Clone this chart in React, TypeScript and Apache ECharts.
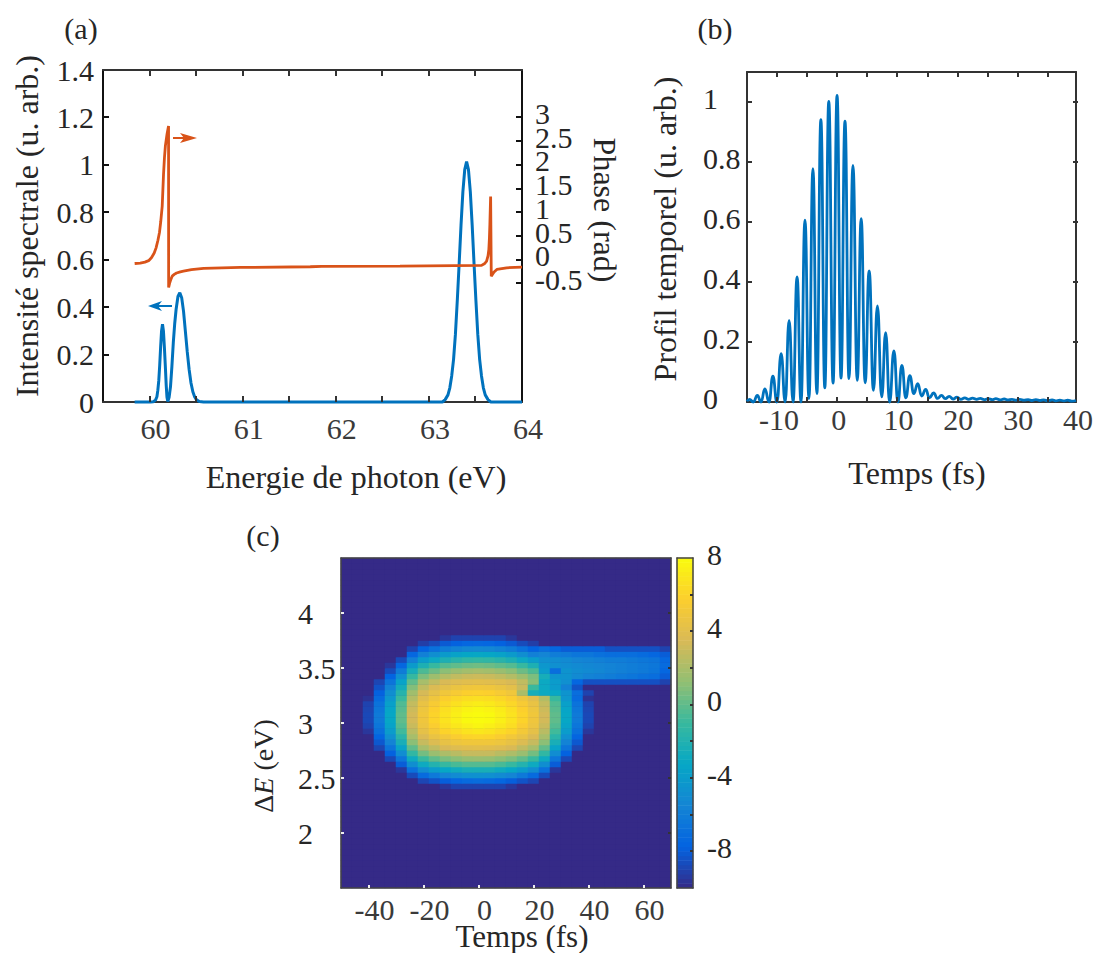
import React, { useEffect, useRef } from "react";
import * as echarts from "echarts";

const FONT = "Liberation Serif";
const INK = "#262626";
const TICKINK = "#3a3a3a";
const BLUE = "#0072bd";
const ORANGE = "#d95319";
const B = -10;

const spectrumEnergy = [59.84, 60.01, 60.04, 60.064, 60.079, 60.089, 60.099, 60.109, 60.119, 60.129, 60.139, 60.149, 60.159, 60.169, 60.179, 60.187, 60.196, 60.21, 60.225, 60.24, 60.255, 60.27, 60.285, 60.305, 60.325, 60.345, 60.365, 60.385, 60.405, 60.425, 60.445, 60.465, 60.485, 60.505, 60.535, 60.58, 61, 62, 63, 63.145, 63.175, 63.205, 63.225, 63.245, 63.265, 63.285, 63.305, 63.325, 63.345, 63.365, 63.385, 63.405, 63.425, 63.445, 63.465, 63.485, 63.505, 63.525, 63.545, 63.565, 63.585, 63.605, 63.635, 63.665, 64];
const spectrumValue = [0, 0, 0.001, 0.008, 0.022, 0.05, 0.09, 0.155, 0.233, 0.3, 0.328, 0.3, 0.233, 0.155, 0.07, 0.02, 0.002, 0.02, 0.065, 0.15, 0.25, 0.33, 0.39, 0.445, 0.461, 0.44, 0.382, 0.297, 0.211, 0.137, 0.08, 0.043, 0.021, 0.009, 0.002, 0, 0, 0, 0, 0, 0.01, 0.03, 0.06, 0.11, 0.18, 0.286, 0.428, 0.583, 0.745, 0.886, 0.98, 1.014, 0.98, 0.886, 0.745, 0.583, 0.428, 0.286, 0.18, 0.11, 0.06, 0.03, 0.01, 0, 0];

const phaseEnergy = [59.84, 59.9, 59.95, 59.99, 60.02, 60.05, 60.07, 60.09, 60.107, 60.12, 60.136, 60.15, 60.16, 60.17, 60.188, 60.204, 60.205, 60.215, 60.23, 60.243, 60.265, 60.29, 60.33, 60.364, 60.45, 60.58, 60.975, 61.726, 61.85, 62.69, 63.566, 63.6, 63.62, 63.635, 63.644, 63.65, 63.655, 63.663, 63.67, 63.7, 63.73, 63.835, 64];
const phaseValue = [-0.08, -0.07, -0.05, -0.02, 0.04, 0.14, 0.25, 0.41, 0.58, 0.8, 1.13, 1.8, 2.15, 2.4, 2.65, 2.82, -0.585, -0.5, -0.41, -0.347, -0.31, -0.28, -0.255, -0.24, -0.21, -0.184, -0.163, -0.148, -0.142, -0.137, -0.12, -0.08, -0.03, 0.08, 0.218, 0.45, 0.746, 1.33, -0.347, -0.26, -0.205, -0.17, -0.156];

const profileTime = [-15, -14.59, -13.93, -13.27, -12.66, -12, -11.33, -10.67, -10, -9.29, -8.62, -7.96, -7.3, -6.63, -5.97, -5.31, -4.64, -3.98, -3.32, -2.65, -1.99, -1.33, -0.61, 0.055, 0.72, 1.38, 2.05, 2.71, 3.43, 4.09, 4.75, 5.42, 6.14, 6.8, 7.52, 8.18, 8.84, 9.56, 10.23, 10.89, 11.55, 12.22, 12.88, 13.54, 14.2, 14.87, 15.5, 16.2, 16.85, 17.5, 18.15, 18.8, 19.45, 20.1, 20.75, 21.4, 22.05, 22.7, 23.4, 24, 24.65, 25.3, 26, 26.6, 27.3, 28, 28.6, 29.3, 30, 30.6, 31.3, 32, 32.6, 33.3, 34, 34.6, 35.3, 36, 36.6, 37.3, 38, 38.6, 39.3, 40];
const profileValue = [0.002, 0.009, 0, 0.022, 0, 0.044, 0, 0.086, 0, 0.161, 0, 0.272, 0, 0.417, 0, 0.606, 0.011, 0.778, 0.028, 0.941, 0.047, 1.002, 0.063, 1.022, 0.08, 0.936, 0.078, 0.789, 0.072, 0.611, 0.064, 0.437, 0.039, 0.32, 0.017, 0.231, 0, 0.17, 0, 0.122, 0.014, 0.088, 0.028, 0.061, 0.02, 0.042, 0.014, 0.03, 0.012, 0.022, 0.011, 0.019, 0.01, 0.016, 0.009, 0.014, 0.009, 0.013, 0.009, 0.012, 0.008, 0.011, 0.008, 0.011, 0.007, 0.01, 0.007, 0.009, 0.006, 0.009, 0.006, 0.008, 0.005, 0.008, 0.005, 0.007, 0.004, 0.007, 0.004, 0.006, 0.004, 0.006, 0.003, 0.005];

const heatTimes = [-48, -44, -40, -36, -32, -28, -24, -20, -16, -12, -8, -4, 0, 4, 8, 12, 16, 20, 24, 28, 32, 36, 40, 44, 48, 52, 56, 60, 64, 68];
const heatEnergies = [1.525, 1.575, 1.625, 1.675, 1.725, 1.775, 1.825, 1.875, 1.925, 1.975, 2.025, 2.075, 2.125, 2.175, 2.225, 2.275, 2.325, 2.375, 2.425, 2.475, 2.525, 2.575, 2.625, 2.675, 2.725, 2.775, 2.825, 2.875, 2.925, 2.975, 3.025, 3.075, 3.125, 3.175, 3.225, 3.275, 3.325, 3.375, 3.425, 3.475, 3.525, 3.575, 3.625, 3.675, 3.725, 3.775, 3.825, 3.875, 3.925, 3.975, 4.025, 4.075, 4.125, 4.175, 4.225, 4.275, 4.325, 4.375, 4.425, 4.475];
const heatRows = [
  [B, B, B, B, B, B, B, B, B, -9.5, -9, -9, -9, -9, -9, -9.5, B, B, B, B, B, B, B, B, B, B, B, B, B, B],
  [B, B, B, B, B, B, B, -9.2, -8.7, -8.1, -7.8, -7.5, -7.4, -7.5, -7.8, -8.1, -8.7, -9.2, B, B, B, B, B, B, B, B, B, B, B, B],
  [B, B, B, B, B, B, -9, -7.7, -6.8, -6.1, -5.7, -5.4, -5.3, -5.4, -5.7, -6.1, -6.8, -7.7, -7, -7.5, -8, -8, -8, -8, -8.5, -8.5, -8.5, -8.5, -8.5, -9],
  [B, B, B, B, B, -10, -7.5, -5.8, -4.9, -4.1, -3.6, -3.3, -3.2, -3.3, -3.6, -4.1, -4.9, -5.8, -5.5, -6, -6.2, -6.5, -6.5, -6.8, -7, -7, -7, -7.2, -7.5, -8],
  [B, B, B, B, B, -8.7, -5.8, -3.9, -3, -2.2, -1.7, -1.4, -1.3, -1.4, -1.7, -2.2, -3, -3.9, -4.8, -5, -5.2, -5.5, -5.6, -5.8, -6, -6, -6.2, -6.4, -6.6, -7.4],
  [B, B, B, B, -9.5, -7.5, -4.1, -2.2, -1.1, -0.3, 0, 0.3, 0.4, 0.3, 0, -0.3, -1.1, -2.2, -4.3, -4.8, -5, -5.2, -5.4, -5.5, -5.6, -5.8, -6, -6.2, -6.4, -7.2],
  [B, B, B, B, -8.7, -6.1, -2.5, -0.5, 0.3, 1.1, 1.5, 1.8, 1.9, 1.8, 1.5, 1.1, 0.3, -0.5, -4, -7, -4.6, -5, -5.2, -5.4, -5.6, -5.8, -6, -6.2, -6.5, -7.5],
  [B, B, B, B, -7.7, -4.8, -1.1, 0.7, 1.6, 2.3, 2.7, 3, 3.1, 3, 2.7, 2.3, 1.6, 0.7, -2.5, -4.5, -4.6, -5.2, -5.6, -5.8, -6, -6.3, -6.5, -6.8, -7, -8],
  [B, B, B, -8.9, -6.6, -3.5, 0, 1.9, 2.7, 3.5, 3.8, 4, 4.1, 4, 3.8, 3.5, 2.7, 1, -3, -4, -4.8, -7.5, -8.5, -8.5, -8.5, -8.5, -8.5, -8.5, -8.5, -9],
  [B, B, B, -8.4, -5.7, -2.6, 0.9, 2.7, 3.6, 4.2, 4.6, 4.9, 5, 4.9, 4.6, 4.2, 3, -1, -3, -4, -5.7, -8.4, B, B, B, B, B, B, B, B],
  [B, B, B, -7.8, -4.9, -1.8, 1.7, 3.4, 4.3, 5, 5.4, 5.8, 5.9, 5.8, 5.4, 5, 2, -2.5, -3, -3.2, -4.5, -7, -9, B, B, B, B, B, B, B],
  [B, B, -9.7, -7.2, -4.3, -1, 2.3, 4, 4.9, 5.7, 6.2, 6.5, 6.6, 6.5, 6.2, 5.7, 4.9, 4, 2.3, -1, -4.3, -7.2, -9.7, B, B, B, B, B, B, B],
  [B, B, -9, -6.7, -3.7, -0.4, 2.8, 4.5, 5.4, 6.2, 6.7, 7.1, 7.3, 7.1, 6.7, 6.2, 5.4, 4.5, 2.8, -0.4, -3.7, -6.7, -9, B, B, B, B, B, B, B],
  [B, B, -8.9, -6.4, -3.4, -0.2, 3.1, 4.8, 5.8, 6.6, 7.2, 7.6, 7.8, 7.6, 7.2, 6.6, 5.8, 4.8, 3.1, -0.2, -3.4, -6.4, -8.9, B, B, B, B, B, B, B],
  [B, B, -8.8, -6.2, -3.2, 0, 3.3, 5, 6, 6.8, 7.4, 7.9, 8, 7.9, 7.4, 6.8, 6, 5, 3.3, 0, -3.2, -6.2, -8.8, B, B, B, B, B, B, B],
  [B, B, -8.8, -6.2, -3.2, 0, 3.3, 4.9, 6, 6.8, 7.4, 7.9, 8, 7.9, 7.4, 6.8, 6, 4.9, 3.3, 0, -3.2, -6.2, -8.8, B, B, B, B, B, B, B],
  [B, B, -9, -6.5, -3.5, -0.3, 3, 4.7, 5.6, 6.5, 7, 7.4, 7.7, 7.4, 7, 6.5, 5.6, 4.7, 3, -0.3, -3.5, -6.5, -9, B, B, B, B, B, B, B],
  [B, B, -9.5, -6.9, -4, -0.8, 2.5, 4.3, 5.2, 6, 6.4, 6.8, 7, 6.8, 6.4, 6, 5.2, 4.3, 2.5, -0.8, -4, -6.9, -9.5, B, B, B, B, B, B, B],
  [B, B, B, -7.6, -4.8, -1.6, 1.9, 3.6, 4.5, 5.1, 5.6, 6, 6.1, 6, 5.6, 5.1, 4.5, 3.6, 1.9, -1.6, -4.8, -7.6, B, B, B, B, B, B, B, B],
  [B, B, B, -8.2, -5.6, -2.4, 1.1, 2.9, 3.7, 4.4, 4.8, 5, 5, 5, 4.8, 4.4, 3.7, 2.9, 1.1, -2.4, -5.6, -8.2, B, B, B, B, B, B, B, B],
  [B, B, B, -8.9, -6.6, -3.5, 0, 1.9, 2.7, 3.5, 3.8, 4, 4.1, 4, 3.8, 3.5, 2.7, 1.9, 0, -3.5, -6.6, -8.9, B, B, B, B, B, B, B, B],
  [B, B, B, B, -7.8, -5, -1.3, 0.5, 1.5, 2.1, 2.5, 2.9, 2.9, 2.9, 2.5, 2.1, 1.5, 0.5, -1.3, -5, -7.8, B, B, B, B, B, B, B, B, B],
  [B, B, B, B, -8.8, -6.5, -2.9, -1, 0, 0.7, 1.1, 1.4, 1.5, 1.4, 1.1, 0.7, 0, -1, -2.9, -6.5, -8.8, B, B, B, B, B, B, B, B, B],
  [B, B, B, B, B, -8, -4.9, -2.9, -1.9, -1.1, -0.6, -0.3, -0.3, -0.3, -0.6, -1.1, -1.9, -2.9, -4.9, -8, B, B, B, B, B, B, B, B, B, B],
  [B, B, B, B, B, -9.5, -6.8, -5, -4, -3.2, -2.8, -2.4, -2.4, -2.4, -2.8, -3.2, -4, -5, -6.8, -9.5, B, B, B, B, B, B, B, B, B, B],
  [B, B, B, B, B, B, -8.7, -7.2, -6.3, -5.5, -5.1, -4.8, -4.7, -4.8, -5.1, -5.5, -6.3, -7.2, -8.7, B, B, B, B, B, B, B, B, B, B, B],
  [B, B, B, B, B, B, B, -8.9, -8.4, -7.9, -7.5, -7.2, -7.1, -7.2, -7.5, -7.9, -8.4, -8.9, B, B, B, B, B, B, B, B, B, B, B, B],
  [B, B, B, B, B, B, B, B, B, -9.5, -9, -9, -9, -9, -9, -9.5, B, B, B, B, B, B, B, B, B, B, B, B, B, B],
];
const colorLevels = Array.from({ length: 72 }, (_, i) => -10 + (i + 0.5) * 0.25);
const parula = ["#352a87", "#0363e1", "#1485d4", "#06a7c6", "#38b99e", "#92bf73", "#d9ba56", "#fcce2e", "#f9fb0e"];

const ticksAX = [60, 61, 62, 63, 64];
const ticksAXMarks = [60, 60.5, 61, 61.5, 62, 62.5, 63, 63.5];
const ticksAY = [0, 0.2, 0.4, 0.6, 0.8, 1, 1.2, 1.4];
const ticksAYMarks = [0.2, 0.4, 0.6, 0.8, 1, 1.2];
const ticksPhase = [-0.5, 0, 0.5, 1, 1.5, 2, 2.5, 3];
const phaseLabelSlots = [-3, -0.5, 0, 0.5, 1, 1.5, 2, 2.5, 3, 4];
const ticksBX = [-10, 0, 10, 20, 30, 40];
const ticksBXMarks = [-10, -5, 0, 5, 10, 15, 20, 25, 30, 35];
const ticksBY = [0, 0.2, 0.4, 0.6, 0.8, 1];
const ticksBYMarks = [0.2, 0.4, 0.6, 0.8, 1];
const ticksCX = [-40, -20, 0, 20, 40, 60];
const ticksCYAll = [2, 2.5, 3, 3.5, 4];
const ticksCY = [2, 2.5, 3, 3.5, 4];
const ticksBarAll = [-8, -6, -4, -2, 0, 2, 4, 6];
const ticksBar = [-8, -4, 0, 4, 8];

const gridA = { left: 103, top: 70, width: 419, height: 332 };
const gridB = { left: 747, top: 72, width: 331, height: 330 };
const gridC = { left: 341, top: 558, width: 330, height: 330 };
const gridBar = { left: 677, top: 558, width: 16, height: 330 };

const zip = (a: number[], b: number[]) => a.map((v, i) => [v, b[i]]);

function valueAxis(o: any) {
  const { lineColor = "#333", lineWidth = 2, labelValues, labelSize = 30, labelColor = INK, margin = 8, padding, labelExtra = {}, ...rest } = o;
  return {
    type: "value",
    z: 5,
    splitLine: { show: false },
    axisLine: { show: true, onZero: false, lineStyle: { color: lineColor, width: lineWidth } },
    axisTick: { show: false },
    axisLabel: labelValues
      ? { show: true, customValues: labelValues, hideOverlap: false, fontFamily: FONT, fontSize: labelSize, color: labelColor, margin, padding: padding || 0, ...labelExtra }
      : { show: false },
    ...rest,
  };
}

function titleText(text: string, x: number, y: number, rotation = 0, fontSize = 32, extra: any = {}) {
  return {
    type: "text",
    x,
    y,
    rotation,
    z: 20,
    style: { text, fontFamily: FONT, fontSize, fill: INK, align: "center", verticalAlign: "middle", ...extra },
  };
}

function arrow(color: string, x0: number, x1: number, y: number, wing: number) {
  const dir = x1 > x0 ? 1 : -1;
  return [
    { type: "line", z: 20, shape: { x1: x0, y1: y, x2: x1 - dir * 6, y2: y }, style: { stroke: color, lineWidth: 2 } },
    {
      type: "polygon",
      z: 20,
      shape: { points: [[x1, y], [x1 - dir * wing, y - 5], [x1 - dir * (wing - 4), y], [x1 - dir * wing, y + 5]] },
      style: { fill: color },
    },
  ];
}

// Inward tick marks on one side of a plot box, placed by the axis range
function ticks(g: any, side: string, min: number, max: number, values: number[], len: number, color: string) {
  return values.map((v) => {
    const f = (v - min) / (max - min);
    const horizontal = side === "top" || side === "bottom";
    const p = horizontal ? Math.round(g.left + f * g.width) : Math.round(g.top + (1 - f) * g.height);
    const edge = side === "left" ? g.left : side === "right" ? g.left + g.width : side === "top" ? g.top : g.top + g.height;
    const dir = side === "left" || side === "top" ? 1 : -1;
    const shape = horizontal ? { x1: p, y1: edge, x2: p, y2: edge + dir * len } : { x1: edge, y1: p, x2: edge + dir * len, y2: p };
    return { type: "line", z: 21, shape, style: { stroke: color, lineWidth: 2 } };
  });
}

const raiseLabel = { verticalAlign: "bottom", lineHeight: 8 };
const DARK = "#333";
const PAGE = { position: "absolute", left: 0, top: 0, width: 1096, height: 953 } as const;

export default function App() {
  const ref = useRef<HTMLDivElement>(null);
  const tickRef = useRef<HTMLDivElement>(null);
  useEffect(() => {
    const chart = echarts.init(ref.current!, null, { renderer: "svg" });
    const tickChart = echarts.init(tickRef.current!, null, { renderer: "svg" });

    const heatData: number[][] = [];
    heatEnergies.forEach((_, y) => {
      const row = heatRows[45 - y];
      heatTimes.forEach((_, x) => heatData.push([x, y, row ? row[x] : B]));
    });
    const barData = colorLevels.map((v, i) => [0, i, v]);

    chart.setOption({
      animation: false,
      backgroundColor: "#fff",
      grid: [
        gridA,
        gridB,
        { ...gridC, show: true, backgroundColor: "#352a87", borderWidth: 0 },
        gridC,
        gridBar,
        gridBar,
      ],
      xAxis: [
        valueAxis({ gridIndex: 0, position: "bottom", min: 59.5, max: 64, interval: 0.5, labelValues: ticksAX, labelColor: TICKINK, margin: 11, padding: [0, 0, 0, 12] }),
        valueAxis({ gridIndex: 0, position: "top", min: 59.5, max: 64, interval: 0.5 }),
        valueAxis({ gridIndex: 1, position: "bottom", min: -15, max: 40, interval: 5, labelValues: ticksBX, labelColor: TICKINK, margin: 2, padding: [0, 0, 0, 4] }),
        valueAxis({ gridIndex: 1, position: "top", min: -15, max: 40, interval: 5 }),
        { type: "category", gridIndex: 2, show: false, data: heatTimes.map(String) },
        valueAxis({ gridIndex: 3, position: "bottom", min: -50, max: 70, interval: 10, labelValues: ticksCX, lineColor: "#444", lineWidth: 1.5, labelColor: TICKINK, margin: 9, padding: [0, 0, 0, 12], labelExtra: { lineHeight: 24 } }),
        valueAxis({ gridIndex: 3, position: "top", min: -50, max: 70, interval: 10, lineColor: "#444", lineWidth: 1.5 }),
        { type: "category", gridIndex: 4, show: false, data: ["0"] },
        valueAxis({ gridIndex: 5, position: "bottom", min: 0, max: 1, lineColor: "#444", lineWidth: 1.5 }),
        valueAxis({ gridIndex: 5, position: "top", min: 0, max: 1, lineColor: "#444", lineWidth: 1.5 }),
      ],
      yAxis: [
        valueAxis({ gridIndex: 0, position: "left", min: 0, max: 1.4, interval: 0.2, lineColor: "#111", labelValues: ticksAY, margin: 9 }),
        valueAxis({ gridIndex: 0, position: "right", min: -3, max: 4, interval: 0.5, lineColor: "#111", labelValues: phaseLabelSlots, margin: 13, labelExtra: { ...raiseLabel, formatter: (v: number) => (v === -3 || v === 4 ? "" : String(v)) } }),
        valueAxis({ gridIndex: 1, position: "left", min: 0, max: 1.1, interval: 0.1, labelValues: ticksBY, margin: 44, labelExtra: { ...raiseLabel, align: "left" } }),
        valueAxis({ gridIndex: 1, position: "right", min: 0, max: 1.1, interval: 0.1 }),
        { type: "category", gridIndex: 2, show: false, data: heatEnergies.map(String) },
        valueAxis({ gridIndex: 3, position: "left", min: 1.5, max: 4.5, interval: 0.5, labelValues: ticksCY, lineColor: "#444", lineWidth: 1.5, margin: 43, labelExtra: { align: "left" } }),
        valueAxis({ gridIndex: 3, position: "right", min: 1.5, max: 4.5, interval: 0.5, lineColor: "#444", lineWidth: 1.5 }),
        { type: "category", gridIndex: 4, show: false, data: colorLevels.map(String) },
        valueAxis({ gridIndex: 5, position: "left", min: -10, max: 8, interval: 2, lineColor: "#444", lineWidth: 1.5 }),
        valueAxis({ gridIndex: 5, position: "right", min: -10, max: 8, interval: 2, labelValues: ticksBar, lineColor: "#444", lineWidth: 1.5, margin: 14, labelExtra: raiseLabel }),
      ],
      visualMap: {
        type: "continuous",
        show: false,
        min: -10,
        max: 8,
        dimension: 2,
        seriesIndex: [3, 4],
        inRange: { color: parula },
      },
      series: [
        { type: "line", name: "Intensité", xAxisIndex: 0, yAxisIndex: 0, data: zip(spectrumEnergy, spectrumValue), showSymbol: false, clip: false, z: 6, lineStyle: { color: BLUE, width: 3 } },
        { type: "line", name: "Phase", xAxisIndex: 0, yAxisIndex: 1, data: zip(phaseEnergy, phaseValue), showSymbol: false, clip: false, z: 7, lineStyle: { color: ORANGE, width: 2.8 } },
        { type: "line", name: "Profil", xAxisIndex: 2, yAxisIndex: 2, data: zip(profileTime, profileValue), showSymbol: false, clip: false, z: 6, smooth: 0.5, smoothMonotone: "x", lineStyle: { color: BLUE, width: 2.8 } },
        { type: "heatmap", xAxisIndex: 4, yAxisIndex: 4, data: heatData, progressive: 0, silent: true, z: 1 },
        { type: "heatmap", xAxisIndex: 7, yAxisIndex: 7, data: barData, progressive: 0, silent: true, z: 1 },
      ],
      graphic: [
        titleText("(a)", 81, 28, 0, 30),
        titleText("(b)", 715, 28, 0, 30),
        titleText("(c)", 263, 535, 0, 30),
        titleText("Intensité spectrale (u. arb.)", 27, 226, Math.PI / 2),
        titleText("Energie de photon (eV)", 356, 477),
        titleText("Phase (rad)", 605, 210, -Math.PI / 2),
        titleText("Profil temporel (u. arb.)", 665, 229, Math.PI / 2),
        titleText("Temps (fs)", 917, 473),
        titleText("Temps (fs)", 522, 936, 0, 31),
        titleText("{n|Δ}{i|E}{n| (eV)}", 263, 766, Math.PI / 2, 28, {
          rich: {
            n: { fontFamily: FONT, fontSize: 28, fill: INK },
            i: { fontFamily: FONT, fontSize: 28, fontStyle: "italic", fill: INK },
          },
        }),
        ...arrow(ORANGE, 173, 197, 138, 17),
        ...arrow(BLUE, 172, 148, 306, 14),
      ],
    });

    // Tick marks sit in a transparent layer above the plots
    tickChart.setOption({
      animation: false,
      graphic: [
        ...ticks(gridA, "bottom", 59.5, 64, ticksAXMarks, 6, DARK),
        ...ticks(gridA, "top", 59.5, 64, ticksAXMarks, 6, DARK),
        ...ticks(gridA, "left", 0, 1.4, ticksAYMarks, 6, "#111"),
        ...ticks(gridA, "right", -3, 4, ticksPhase, 6, "#111"),
        ...ticks(gridB, "bottom", -15, 40, ticksBXMarks, 5, DARK),
        ...ticks(gridB, "top", -15, 40, ticksBXMarks, 5, DARK),
        ...ticks(gridB, "left", 0, 1.1, ticksBYMarks, 5, DARK),
        ...ticks(gridB, "right", 0, 1.1, ticksBYMarks, 5, DARK),
        ...ticks(gridC, "bottom", -50, 70, ticksCX, 3, "#eee"),
        ...ticks(gridC, "left", 1.5, 4.5, ticksCYAll, 3, "#eee"),
        ...ticks(gridC, "right", 1.5, 4.5, ticksCYAll, 3, DARK),
        ...ticks(gridBar, "right", -10, 8, ticksBarAll, 3, DARK),
      ],
    });
    return () => {
      chart.dispose();
      tickChart.dispose();
    };
  }, []);
  return (
    <div>
      <div ref={ref} style={PAGE} />
      <div ref={tickRef} style={{ ...PAGE, pointerEvents: "none" }} />
    </div>
  );
}
